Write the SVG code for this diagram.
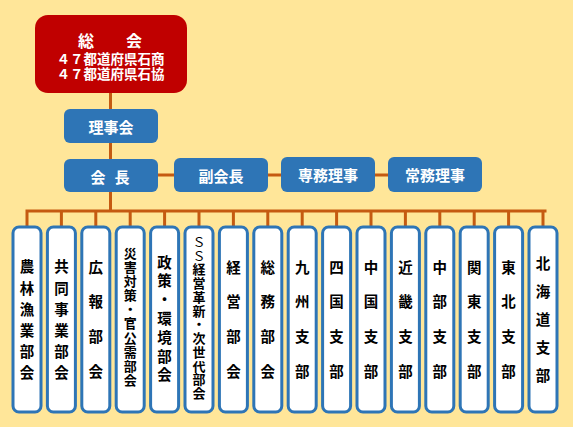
<svg xmlns="http://www.w3.org/2000/svg" width="573" height="427" viewBox="0 0 573 427">
<style>
text{font-family:"Noto Sans CJK JP","Noto Sans CJK SC",sans-serif;font-weight:bold;}
.w{fill:#ffffff;text-anchor:middle;dominant-baseline:central;}
.v{fill:#000000;font-size:14.5px;text-anchor:middle;writing-mode:vertical-rl;text-orientation:upright;}
.n4{letter-spacing:20.17px;}
.n5{letter-spacing:13.5px;}
.n6{letter-spacing:6.7px;}
.n7{letter-spacing:4.33px;}
.n10{font-size:13px;letter-spacing:1.11px;}
.n12{font-size:13px;letter-spacing:0.73px;}
.bb{fill:#2E75B6;}
.wb{fill:#ffffff;stroke:#2E75B6;stroke-width:3;}
.c{stroke:#C55A11;stroke-width:3;fill:none;}
</style>
<rect x="0" y="0" width="573" height="427" fill="#FFE699"/>
<g id="connectors">
<path class="c" d="M110.5,93V109M110.5,143V159M110.5,192V211M158,175H174M268,175H281M375,175H388"/>
<path class="c" d="M25.5,211H546.5M27,211V227M61.4,211V227M95.8,211V227M130.2,211V227M164.6,211V227M199,211V227M233.4,211V227M267.8,211V227M302.2,211V227M336.6,211V227M371,211V227M405.4,211V227M439.8,211V227M474.2,211V227M508.6,211V227M543,211V227"/>
</g>
<g id="sokai">
<rect x="35" y="15" width="152" height="78" rx="13" fill="#C00000"/>
<text class="w" font-size="13.5px"><tspan x="110" y="40" font-size="16px">総　　会</tspan><tspan x="110.5" y="58">４７都道府県石商</tspan><tspan x="110.5" y="73">４７都道府県石協</tspan></text>
</g>
<g id="rijikai"><rect class="bb" x="64" y="109" width="94" height="34" rx="6"/><text class="w" x="111" y="126" font-size="15px">理事会</text></g>
<g id="kaicho"><rect class="bb" x="64" y="159" width="94" height="33" rx="6"/><text class="w" font-size="15px" y="175.5"><tspan x="98" y="175.5">会</tspan><tspan x="122" y="175.5">長</tspan></text></g>
<g id="fukukaicho"><rect class="bb" x="174" y="158" width="94" height="34" rx="6"/><text class="w" x="221" y="175" font-size="15px">副会長</text></g>
<g id="senmu"><rect class="bb" x="281" y="157" width="94" height="35" rx="6"/><text class="w" x="328" y="174.5" font-size="15px">専務理事</text></g>
<g id="jomu"><rect class="bb" x="388" y="157" width="94" height="35" rx="6"/><text class="w" x="435" y="174.5" font-size="15px">常務理事</text></g>

<g id="b1"><rect class="wb" x="13" y="227" width="28" height="185" rx="6"/><text class="v n6" x="27" y="323.35">農林漁業部会</text></g>
<g id="b2"><rect class="wb" x="47.4" y="227" width="28" height="185" rx="6"/><text class="v n6" x="61.4" y="323.35">共同事業部会</text></g>
<g id="b3"><rect class="wb" x="81.8" y="227" width="28" height="185" rx="6"/><text class="v n4" x="95.8" y="329.1">広報部会</text></g>
<g id="b4"><rect class="wb" x="116.2" y="227" width="28" height="185" rx="6"/><text class="v n10" x="130.2" y="317.05">災害対策・官公需部会</text></g>
<g id="b5"><rect class="wb" x="150.6" y="227" width="28" height="185" rx="6"/><text class="v n7" x="164.6" y="320.67">政策・環境部会</text></g>
<g id="b6"><rect class="wb" x="185" y="227" width="28" height="185" rx="6"/><text class="v n12" x="199" y="317.9"><tspan font-weight="normal">ＳＳ</tspan>経営革新・次世代部会</text></g>
<g id="b7"><rect class="wb" x="219.4" y="227" width="28" height="185" rx="6"/><text class="v n4" x="233.4" y="329.1">経営部会</text></g>
<g id="b8"><rect class="wb" x="253.8" y="227" width="28" height="185" rx="6"/><text class="v n4" x="267.8" y="329.1">総務部会</text></g>
<g id="b9"><rect class="wb" x="288.2" y="227" width="28" height="185" rx="6"/><text class="v n4" x="302.2" y="329.1">九州支部</text></g>
<g id="b10"><rect class="wb" x="322.6" y="227" width="28" height="185" rx="6"/><text class="v n4" x="336.6" y="329.1">四国支部</text></g>
<g id="b11"><rect class="wb" x="357" y="227" width="28" height="185" rx="6"/><text class="v n4" x="371" y="329.1">中国支部</text></g>
<g id="b12"><rect class="wb" x="391.4" y="227" width="28" height="185" rx="6"/><text class="v n4" x="405.4" y="329.1">近畿支部</text></g>
<g id="b13"><rect class="wb" x="425.8" y="227" width="28" height="185" rx="6"/><text class="v n4" x="439.8" y="329.1">中部支部</text></g>
<g id="b14"><rect class="wb" x="460.2" y="227" width="28" height="185" rx="6"/><text class="v n4" x="474.2" y="329.1">関東支部</text></g>
<g id="b15"><rect class="wb" x="494.6" y="227" width="28" height="185" rx="6"/><text class="v n4" x="508.6" y="329.1">東北支部</text></g>
<g id="b16"><rect class="wb" x="529" y="227" width="28" height="185" rx="6"/><text class="v n5" x="543" y="325.75">北海道支部</text></g>
</svg>
